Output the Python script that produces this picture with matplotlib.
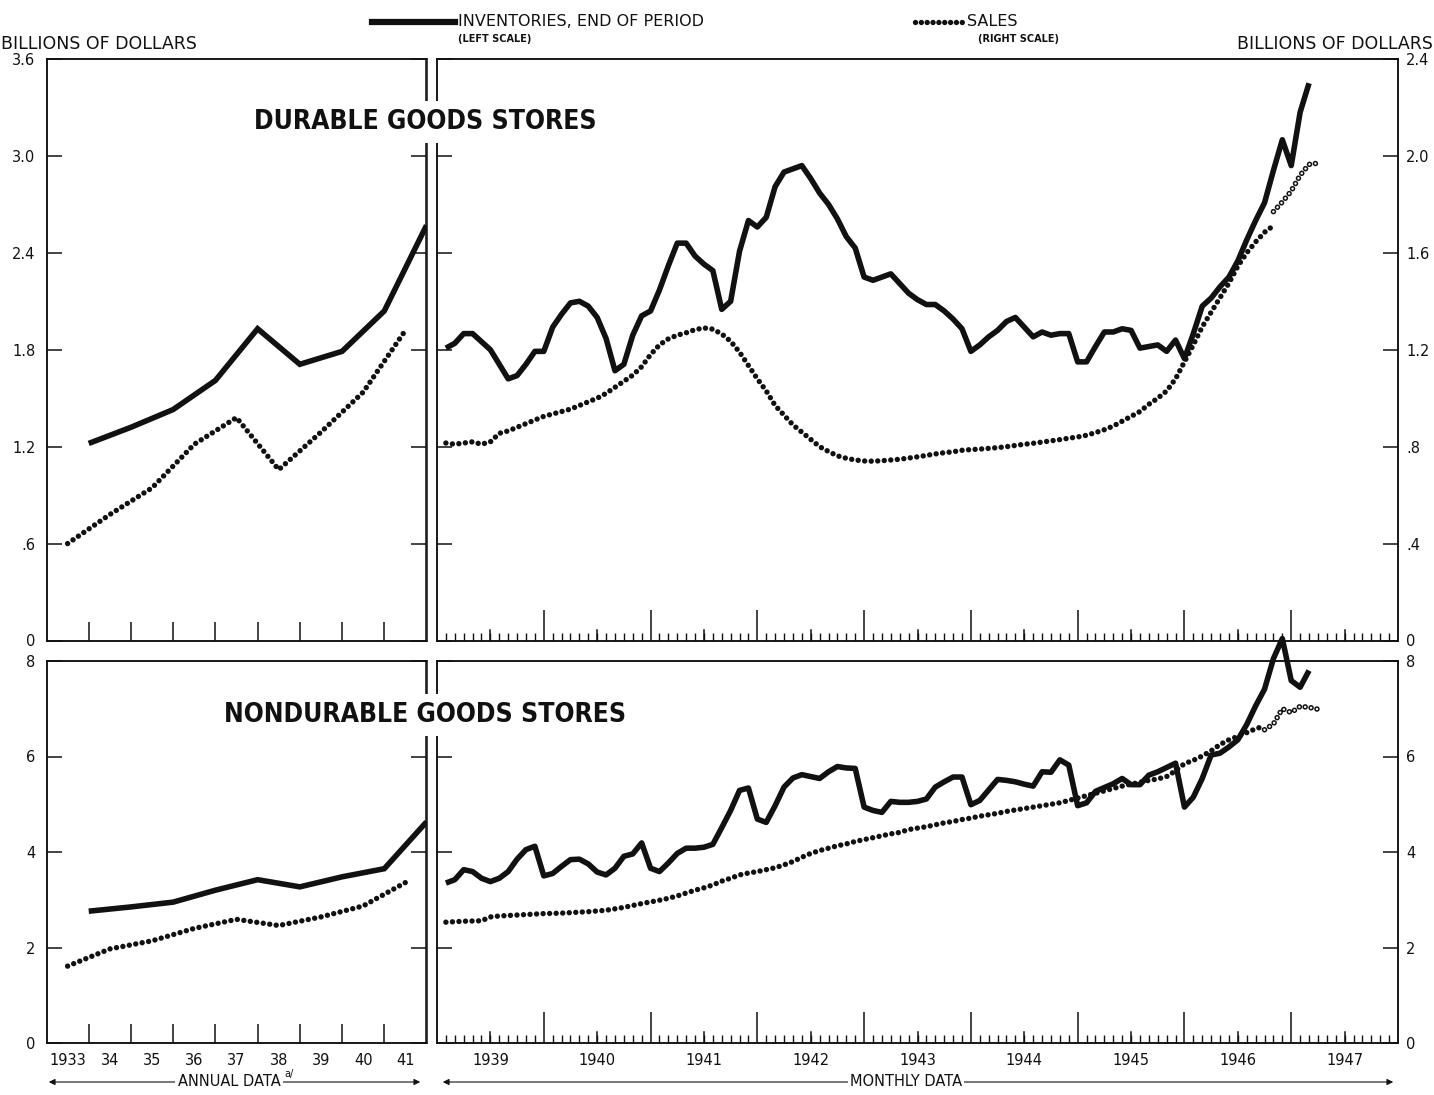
import numpy as np
import matplotlib as mpl
import matplotlib.pyplot as plt
from matplotlib.lines import Line2D
from matplotlib.patches import FancyArrowPatch
from matplotlib import transforms

# ---- annual data, 1933-1941 ----
annual_labels = ["1933", "34", "35", "36", "37", "38", "39", "40", "41"]
dur_inv_annual = [1.22, 1.32, 1.43, 1.61, 1.93, 1.71, 1.79, 2.04, 2.57]
dur_sales_annual = [0.40, 0.52, 0.63, 0.81, 0.92, 0.705, 0.86, 1.025, 1.28]
non_inv_annual = [2.76, 2.85, 2.95, 3.20, 3.42, 3.27, 3.48, 3.65, 4.63]
non_sales_annual = [1.61, 1.97, 2.14, 2.40, 2.59, 2.46, 2.64, 2.87, 3.36]

# ---- monthly data, Jan 1939 onward ----
monthly_labels = ["1939", "1940", "1941", "1942", "1943", "1944", "1945", "1946", "1947"]

dur_inv = [1.81, 1.84, 1.90, 1.90, 1.85, 1.80, 1.71, 1.62, 1.64, 1.71, 1.79, 1.79,
           1.94, 2.02, 2.09, 2.10, 2.07, 2.00, 1.87, 1.67, 1.71, 1.89, 2.01, 2.04,
           2.17, 2.32, 2.46, 2.46, 2.38, 2.33, 2.29, 2.05, 2.10, 2.41, 2.60, 2.56,
           2.62, 2.81, 2.90, 2.92, 2.94, 2.86, 2.77, 2.70, 2.61, 2.50, 2.43, 2.25,
           2.23, 2.25, 2.27, 2.21, 2.15, 2.11, 2.08, 2.08, 2.04, 1.99, 1.93, 1.79,
           1.83, 1.88, 1.92, 1.975, 2.00, 1.94, 1.88, 1.91, 1.89, 1.90, 1.90, 1.725,
           1.725, 1.82, 1.91, 1.91, 1.93, 1.92, 1.81, 1.82, 1.83, 1.79, 1.86, 1.745,
           1.90, 2.07, 2.12, 2.19, 2.25, 2.35, 2.48, 2.60, 2.71, 2.91, 3.10, 2.94,
           3.27, 3.45]

dur_sales = [0.815, 0.81, 0.815, 0.82, 0.81, 0.82, 0.855, 0.865, 0.88, 0.895, 0.91, 0.925,
             0.935, 0.945, 0.955, 0.97, 0.985, 1.00, 1.02, 1.045, 1.07, 1.095, 1.13, 1.18,
             1.22, 1.245, 1.26, 1.27, 1.283, 1.29, 1.285, 1.265, 1.235, 1.19, 1.135, 1.08,
             1.03, 0.97, 0.93, 0.89, 0.86, 0.83, 0.80, 0.78, 0.762, 0.752, 0.745, 0.741,
             0.74, 0.742, 0.745, 0.748, 0.753, 0.758, 0.764, 0.77, 0.775, 0.779, 0.785, 0.788,
             0.79, 0.793, 0.796, 0.80, 0.805, 0.81, 0.814, 0.819, 0.824, 0.829, 0.835, 0.84,
             0.847, 0.858, 0.87, 0.885, 0.905, 0.925, 0.945, 0.975, 1.00, 1.03, 1.08, 1.15,
             1.22, 1.295, 1.355, 1.415, 1.475, 1.545, 1.60, 1.645, 1.685, 1.712]
dur_sales_new = [1.77, 1.81, 1.855, 1.92, 1.965, 1.97]   # Oct 1946 - Mar 1947

non_inv = [3.35, 3.42, 3.63, 3.59, 3.45, 3.38, 3.45, 3.59, 3.85, 4.05, 4.12, 3.50,
           3.55, 3.70, 3.84, 3.85, 3.75, 3.58, 3.52, 3.66, 3.91, 3.96, 4.19, 3.66,
           3.59, 3.77, 3.97, 4.08, 4.08, 4.10, 4.16, 4.51, 4.87, 5.29, 5.34, 4.69,
           4.62, 4.97, 5.36, 5.55, 5.62, 5.58, 5.54, 5.68, 5.79, 5.76, 5.75, 4.94,
           4.87, 4.83, 5.06, 5.04, 5.04, 5.06, 5.11, 5.36, 5.47, 5.57, 5.57, 4.99,
           5.08, 5.30, 5.52, 5.50, 5.47, 5.42, 5.38, 5.68, 5.67, 5.93, 5.82, 4.97,
           5.03, 5.27, 5.35, 5.43, 5.54, 5.41, 5.41, 5.61, 5.68, 5.77, 5.86, 4.94,
           5.15, 5.54, 6.03, 6.07, 6.20, 6.35, 6.67, 7.06, 7.41, 8.05, 8.47, 7.59,
           7.45, 7.80]

non_sales = [2.53, 2.54, 2.55, 2.555, 2.56, 2.64, 2.66, 2.67, 2.68, 2.69, 2.70, 2.71,
             2.715, 2.72, 2.73, 2.74, 2.75, 2.765, 2.78, 2.81, 2.84, 2.88, 2.92, 2.955,
             2.99, 3.03, 3.08, 3.14, 3.20, 3.25, 3.31, 3.39, 3.45, 3.52, 3.56, 3.59,
             3.63, 3.67, 3.73, 3.80, 3.89, 3.97, 4.03, 4.08, 4.13, 4.17, 4.22, 4.26,
             4.30, 4.34, 4.38, 4.41, 4.47, 4.50, 4.53, 4.57, 4.61, 4.64, 4.68, 4.71,
             4.75, 4.78, 4.81, 4.85, 4.88, 4.91, 4.94, 4.97, 5.00, 5.03, 5.08, 5.13,
             5.18, 5.23, 5.28, 5.33, 5.38, 5.42, 5.46, 5.50, 5.53, 5.58, 5.70, 5.85,
             5.92, 6.01, 6.12, 6.25, 6.35, 6.42, 6.50, 6.58, 6.64]
non_sales_new = [6.56, 6.68, 7.00, 6.92, 7.05, 7.03, 6.99]   # Sep 1946 - Mar 1947

INK = "#111111"
W, H = 1434, 1095


def box(x0, y0, x1, y1):
    """pixel box (top-left origin) -> figure fraction rect"""
    return [x0 / W, 1 - y1 / H, (x1 - x0) / W, (y1 - y0) / H]


def dotted(ax, x, y, hollow=False, clip=True):
    # dotted lines with fixed dot spacing in points
    with mpl.rc_context({"lines.scale_dashes": False}):
        if hollow:
            ax.plot(x, y, color=INK, lw=4.0, ls=(0, (0.01, 4.3)),
                    dash_capstyle="round", clip_on=clip, zorder=4)
            ax.plot(x, y, color="white", lw=1.8, ls=(0, (0.01, 4.3)),
                    dash_capstyle="round", clip_on=clip, zorder=5)
        else:
            ax.plot(x, y, color=INK, lw=3.9, ls=(0, (0.01, 4.7)),
                    dash_capstyle="round", clip_on=clip, zorder=4)


def style_axes(ax, axr, left_ticks, left_labels, right_ticks, right_labels, show_left):
    for a in (ax, axr):
        for s in a.spines.values():
            s.set_linewidth(1.1)
            s.set_color(INK)
    ax.set_yticks(left_ticks)
    axr.set_yticks(right_ticks)
    if show_left:
        ax.set_yticklabels(left_labels)
        axr.set_yticklabels([])
    else:
        ax.set_yticklabels([])
        axr.set_yticklabels(right_labels)
    ax.tick_params(axis="y", direction="in", length=11, width=1.1, color=INK,
                   labelsize=10.5, pad=8, labelcolor=INK)
    axr.tick_params(axis="y", direction="in", length=11, width=1.1, color=INK,
                    labelsize=10.5, pad=6, labelcolor=INK)


def label_under(ax, positions, labels):
    for xp, lab in zip(positions, labels):
        ax.annotate(lab, xy=(xp, 0), xycoords=("data", "axes fraction"),
                    xytext=(0, -7), textcoords="offset points",
                    ha="center", va="top", fontsize=10.5, color=INK)


fig = plt.figure(figsize=(14.34, 10.95), dpi=100)

rows = [
    dict(y0=59, y1=640.5, lim_l=3.6, lim_r=2.4,
         lt=[0, 0.6, 1.2, 1.8, 2.4, 3.0, 3.6], ll=["0", ".6", "1.2", "1.8", "2.4", "3.0", "3.6"],
         rt=[0, 0.4, 0.8, 1.2, 1.6, 2.0, 2.4], rl=["0", ".4", ".8", "1.2", "1.6", "2.0", "2.4"],
         inv_a=dur_inv_annual, sal_a=dur_sales_annual,
         inv_m=dur_inv, sal_m=dur_sales, sal_new=dur_sales_new, labels=False),
    dict(y0=661, y1=1043, lim_l=8, lim_r=8,
         lt=[0, 2, 4, 6, 8], ll=["0", "2", "4", "6", "8"],
         rt=[0, 2, 4, 6, 8], rl=["0", "2", "4", "6", "8"],
         inv_a=non_inv_annual, sal_a=non_sales_annual,
         inv_m=non_inv, sal_m=non_sales, sal_new=non_sales_new, labels=True),
]

for r in rows:
    # annual panel
    ax = fig.add_axes(box(46.5, r["y0"], 426.5, r["y1"]))
    axr = ax.twinx()
    ax.set_xlim(0, 9)
    ax.set_ylim(0, r["lim_l"])
    axr.set_ylim(0, r["lim_r"])
    year_ends = np.arange(1, len(r["inv_a"]) + 1)
    ax.plot(year_ends, r["inv_a"], color=INK, lw=4.0, solid_capstyle="butt",
            solid_joinstyle="miter", zorder=4)
    dotted(axr, np.arange(len(r["sal_a"])) + 0.5, r["sal_a"])
    style_axes(ax, axr, r["lt"], r["ll"], r["rt"], r["rl"], show_left=True)
    ax.set_xticks(np.arange(1, 9))
    ax.set_xticklabels([])
    ax.tick_params(axis="x", direction="in", length=14, width=1.1, color=INK)
    if r["labels"]:
        label_under(ax, np.arange(9) + 0.5, annual_labels)

    # monthly panel
    bx = fig.add_axes(box(437, r["y0"], 1398, r["y1"]))
    bxr = bx.twinx()
    bx.set_xlim(0, 108)
    bx.set_ylim(0, r["lim_l"])
    bxr.set_ylim(0, r["lim_r"])
    months = np.arange(1, len(r["inv_m"]) + 1)
    bx.plot(months, r["inv_m"], color=INK, lw=4.0, solid_capstyle="butt",
            solid_joinstyle="round", zorder=4, clip_on=False)
    n_old = len(r["sal_m"])
    dotted(bxr, np.arange(1, n_old + 1), r["sal_m"])
    new_start = 100 - len(r["sal_new"])
    dotted(bxr, np.arange(new_start, 100), r["sal_new"], hollow=True, clip=False)
    style_axes(bx, bxr, r["lt"], r["ll"], r["rt"], r["rl"], show_left=False)
    bx.set_xticks(np.arange(12, 108, 12))
    bx.set_xticklabels([])
    bx.set_xticks([m for m in range(1, 108) if m % 12], minor=True)
    bx.tick_params(axis="x", which="major", direction="in", length=22, width=1.1, color=INK)
    bx.tick_params(axis="x", which="minor", direction="in", length=6, width=1.0, color=INK)
    # taller marks at mid-year
    trans = transforms.blended_transform_factory(bx.transData, bx.transAxes)
    frac = 11 / (r["y1"] - r["y0"])
    for m in range(6, 108, 12):
        bx.plot([m, m], [0, frac], color=INK, lw=1.1, transform=trans, clip_on=False)
    if r["labels"]:
        label_under(bx, np.arange(6, 108, 12), monthly_labels)

# panel titles
title_kw = dict(ha="center", va="center", fontsize=19, color=INK, zorder=10,
                family="DejaVu Sans", fontstretch="condensed", weight="bold",
                bbox=dict(boxstyle="square,pad=0.3", fc="white", ec="none"))
fig.text(425 / W, 1 - 122 / H, "DURABLE GOODS STORES", **title_kw)
fig.text(425 / W, 1 - 715 / H, "NONDURABLE GOODS STORES", **title_kw)

# axis units
fig.text(1 / W, 1 - 44 / H, "BILLIONS OF DOLLARS", ha="left", va="center", fontsize=12.5, color=INK)
fig.text(1433 / W, 1 - 44 / H, "BILLIONS OF DOLLARS", ha="right", va="center", fontsize=12.5, color=INK)

# key
fig.add_artist(Line2D([372 / W, 455 / W], [1 - 22 / H] * 2, lw=4.5, color=INK))
fig.text(458 / W, 1 - 22 / H, "INVENTORIES, END OF PERIOD", ha="left", va="center", fontsize=11.5, color=INK)
fig.text(458 / W, 1 - 39 / H, "(LEFT SCALE)", ha="left", va="center", fontsize=7, weight="bold", color=INK)
with mpl.rc_context({"lines.scale_dashes": False}):
    fig.add_artist(Line2D([915 / W, 963 / W], [1 - 22 / H] * 2, lw=3.9, color=INK,
                          ls=(0, (0.01, 4.2)), dash_capstyle="round"))
fig.text(967 / W, 1 - 22 / H, "SALES", ha="left", va="center", fontsize=11.5, color=INK)
fig.text(978 / W, 1 - 39 / H, "(RIGHT SCALE)", ha="left", va="center", fontsize=7, weight="bold", color=INK)

# span arrows under the time axes
ya = 1 - 1082 / H
for x0, x1, cx, txt in [(46, 423, 229, "ANNUAL DATA"), (440, 1396, 906, "MONTHLY DATA")]:
    fig.add_artist(FancyArrowPatch((x0 / W, ya), (x1 / W, ya), transform=fig.transFigure,
                                   arrowstyle="<|-|>", mutation_scale=9, lw=0.8, color=INK))
    fig.text(cx / W, ya, txt, ha="center", va="center", fontsize=10.5, color=INK, zorder=10,
             bbox=dict(boxstyle="square,pad=0.15", fc="white", ec="none"))
fig.text(284 / W, 1 - 1074 / H, "a/", ha="left", va="center", fontsize=7, color=INK, zorder=11,
         bbox=dict(boxstyle="square,pad=0.1", fc="white", ec="none"))

fig.savefig("out.png", dpi=100)
